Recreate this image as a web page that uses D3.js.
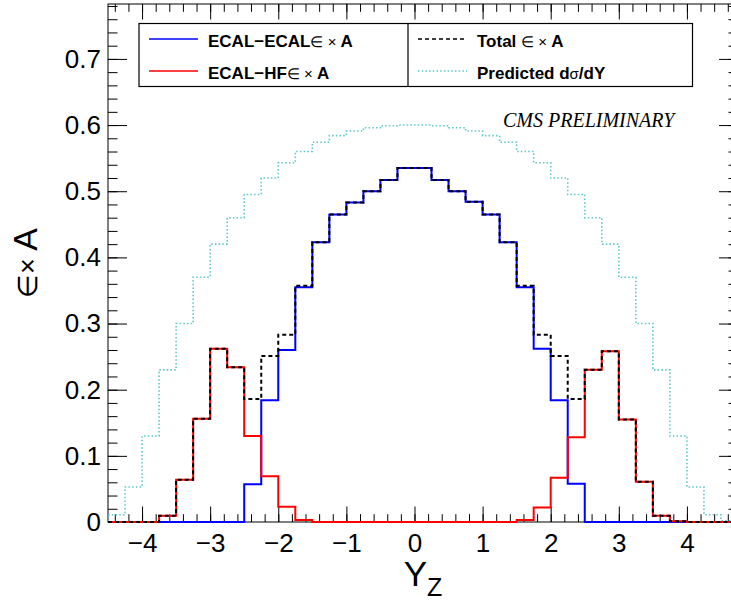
<!DOCTYPE html>
<html>
<head>
<meta charset="utf-8">
<script src="https://cdn.jsdelivr.net/npm/d3@7"></script>
<style>
body { margin: 0; background: #fff; }
text { font-family: "Liberation Sans", Arial, Helvetica, sans-serif; }
</style>
</head>
<body>
<svg id="chart" width="731" height="600"></svg>
<script>
// histogram bins (lower edges), width 0.25
var binLow = [-4.5, -4.25, -4.0, -3.75, -3.5, -3.25, -3.0, -2.75, -2.5, -2.25,
              -2.0, -1.75, -1.5, -1.25, -1.0, -0.75, -0.5, -0.25, 0.0, 0.25,
              0.5, 0.75, 1.0, 1.25, 1.5, 1.75, 2.0, 2.25, 2.5, 2.75,
              3.0, 3.25, 3.5, 3.75, 4.0, 4.25, 4.5];
var binWidth = 0.25;

var ecalEcal = [0, 0, 0, 0, 0, 0, 0, 0, 0.057, 0.184,
                0.26, 0.355, 0.423, 0.465, 0.483, 0.5, 0.517, 0.535, 0.535, 0.517,
                0.5, 0.484, 0.465, 0.423, 0.355, 0.262, 0.184, 0.058, 0, 0,
                0, 0, 0, 0, 0, 0, 0];

var ecalHf = [0, 0, 0, 0.0095, 0.064, 0.156, 0.262, 0.234, 0.13, 0.069,
              0.023, 0.003, 0, 0, 0, 0, 0, 0, 0, 0,
              0, 0, 0, 0, 0.003, 0.022, 0.067, 0.128, 0.23, 0.258,
              0.155, 0.061, 0.0095, 0.001, 0, 0, 0];

var total = [0, 0, 0, 0.0095, 0.064, 0.156, 0.262, 0.234, 0.186, 0.251,
             0.283, 0.357, 0.423, 0.465, 0.483, 0.5, 0.517, 0.535, 0.535, 0.517,
             0.5, 0.484, 0.465, 0.423, 0.357, 0.283, 0.251, 0.186, 0.23, 0.258,
             0.155, 0.061, 0.0095, 0.001, 0, 0, 0];

var predicted = [0.011, 0.053, 0.13, 0.23, 0.30, 0.37, 0.42, 0.46, 0.495, 0.52,
                 0.543, 0.56, 0.574, 0.584, 0.591, 0.596, 0.599, 0.6, 0.6, 0.599,
                 0.596, 0.591, 0.584, 0.574, 0.56, 0.543, 0.52, 0.495, 0.46, 0.42,
                 0.37, 0.30, 0.23, 0.13, 0.053, 0.011, 0.002];

var xTicks = [-4, -3, -2, -1, 0, 1, 2, 3, 4];
var yTicks = [0, 0.1, 0.2, 0.3, 0.4, 0.5, 0.6, 0.7];

var svg = d3.select("#chart");

// frame edges (right one runs past the canvas like in the original)
var fL = 108, fR = 738, fT = 4, fB = 522;
var x = d3.scaleLinear().domain([-4.5, 4.75]).range([fL, fR]);
var y = d3.scaleLinear().domain([0, 0.783]).range([fB, fT]);

svg.append("rect").attr("width", 731).attr("height", 600).attr("fill", "white");

svg.append("clipPath").attr("id", "frameclip")
   .append("rect").attr("x", fL).attr("y", fT - 2)
   .attr("width", fR - fL).attr("height", fB - fT + 4);

// axes - ticks point inwards
var xMinor = d3.range(-22, 24).map(function(i) { return i / 5; });
var yMinor = d3.range(0, 40).map(function(i) { return i / 50; });

function clean(g) {
    g.select(".domain").remove();
    g.selectAll("line").attr("stroke", "black").attr("stroke-width", 1);
}

var gx = svg.append("g").attr("transform", "translate(0," + fB + ")")
    .call(d3.axisBottom(x).tickValues(xTicks).tickSize(-15.5).tickPadding(11.5)
          .tickFormat(d3.format("d")));
gx.call(clean);
gx.selectAll("text").style("font-size", "26px").attr("fill", "black");

svg.append("g").attr("transform", "translate(0," + fB + ")")
    .call(d3.axisBottom(x).tickValues(xMinor).tickSize(-7.8).tickFormat(""))
    .call(clean);
svg.append("g").attr("transform", "translate(0," + fT + ")")
    .call(d3.axisTop(x).tickValues(xTicks).tickSize(-15.5).tickFormat(""))
    .call(clean);
svg.append("g").attr("transform", "translate(0," + fT + ")")
    .call(d3.axisTop(x).tickValues(xMinor).tickSize(-7.8).tickFormat(""))
    .call(clean);

var gy = svg.append("g").attr("transform", "translate(" + fL + ",0)")
    .call(d3.axisLeft(y).tickValues(yTicks).tickSize(-19).tickPadding(7)
          .tickFormat(d3.format("")));
gy.call(clean);
gy.selectAll("text").style("font-size", "26px").attr("fill", "black");

svg.append("g").attr("transform", "translate(" + fL + ",0)")
    .call(d3.axisLeft(y).tickValues(yMinor).tickSize(-9.5).tickFormat(""))
    .call(clean);
svg.append("g").attr("transform", "translate(" + fR + ",0)")
    .call(d3.axisRight(y).tickValues(yTicks).tickSize(-19).tickFormat(""))
    .call(clean);
svg.append("g").attr("transform", "translate(" + fR + ",0)")
    .call(d3.axisRight(y).tickValues(yMinor).tickSize(-9.5).tickFormat(""))
    .call(clean);

// frame
svg.append("rect")
    .attr("x", fL).attr("y", fT)
    .attr("width", fR - fL).attr("height", fB - fT)
    .attr("fill", "none").attr("stroke", "black").attr("stroke-width", 1);

// step outline like root's hist draw
function stepPoints(vals) {
    var pts = [[binLow[0], 0]];
    vals.forEach(function(v, i) { pts.push([binLow[i], v]); });
    var last = binLow[binLow.length - 1] + binWidth;
    pts.push([last, vals[vals.length - 1]]);
    pts.push([last, 0]);
    return pts;
}

var step = d3.line()
    .x(function(d) { return x(d[0]); })
    .y(function(d) { return y(d[1]); })
    .curve(d3.curveStepAfter);

var series = [
    {vals: predicted, color: "#5cc8c8", width: 1.6, dash: "1.5,2.2"},
    {vals: ecalEcal, color: "#0000ff", width: 2, dash: null},
    {vals: ecalHf, color: "#ff0000", width: 2, dash: null},
    {vals: total, color: "#000000", width: 2, dash: "4,3"}
];

// histograms go over the frame, zero bins sit on the axis line
var plot = svg.append("g").attr("clip-path", "url(#frameclip)");
series.forEach(function(s) {
    plot.append("path")
        .attr("d", step(stepPoints(s.vals)))
        .attr("fill", "none")
        .attr("stroke", s.color)
        .attr("stroke-width", s.width)
        .attr("stroke-dasharray", s.dash);
});

// axis titles
var xt = svg.append("text")
    .attr("x", (fL + fR) / 2).attr("y", 586)
    .attr("text-anchor", "middle").attr("fill", "black");
xt.append("tspan").style("font-size", "35px").text("Y");
xt.append("tspan").style("font-size", "25px").attr("dy", 10).text("Z");

var yt = svg.append("text")
    .attr("transform", "translate(37," + (fT + fB) / 2 + ") rotate(-90)")
    .attr("text-anchor", "middle");
yt.append("tspan").style("font-size", "27px").text("\u2208\u00d7 ");
yt.append("tspan").style("font-size", "34px").text("A");

// legend
var leg = svg.append("g");
leg.append("rect").attr("x", 139).attr("y", 23.5).attr("width", 553.5).attr("height", 63)
   .attr("fill", "white").attr("stroke", "black").attr("stroke-width", 1.2);
leg.append("line").attr("x1", 408).attr("x2", 408).attr("y1", 23.5).attr("y2", 86.5)
   .attr("stroke", "black").attr("stroke-width", 1.2);

var legendItems = [
    {s: series[1], x: 149, y: 39, bold: "ECAL\u2212ECAL", sym: "\u2208 \u00d7 ", tail: "A"},
    {s: series[2], x: 149, y: 71, bold: "ECAL\u2212HF", sym: "\u2208 \u00d7 ", tail: "A"},
    {s: series[3], x: 418, y: 39, bold: "Total ", sym: "\u2208 \u00d7 ", tail: "A"},
    {s: series[0], x: 418, y: 71, bold: "Predicted d", sym: "\u03c3", tail: "/dY"}
];

legendItems.forEach(function(d) {
    leg.append("line")
       .attr("x1", d.x).attr("x2", d.x + 49).attr("y1", d.y).attr("y2", d.y)
       .attr("stroke", d.s.color).attr("stroke-width", d.s.width === 2 ? 1.6 : d.s.width)
       .attr("stroke-dasharray", d.s.dash);
    var t = leg.append("text").attr("x", d.x + 59).attr("y", d.y + 7.5)
       .style("font-size", "17px").attr("fill", "black");
    t.append("tspan").style("font-weight", "bold").text(d.bold);
    t.append("tspan").style("font-size", "15px").text(d.sym);
    t.append("tspan").style("font-weight", "bold").text(d.tail);
});

svg.append("text")
    .attr("x", 503).attr("y", 127)
    .style("font-family", "'Liberation Serif', 'Times New Roman', serif")
    .style("font-style", "italic")
    .style("font-size", "20px")
    .text("CMS PRELIMINARY");
</script>
</body>
</html>
